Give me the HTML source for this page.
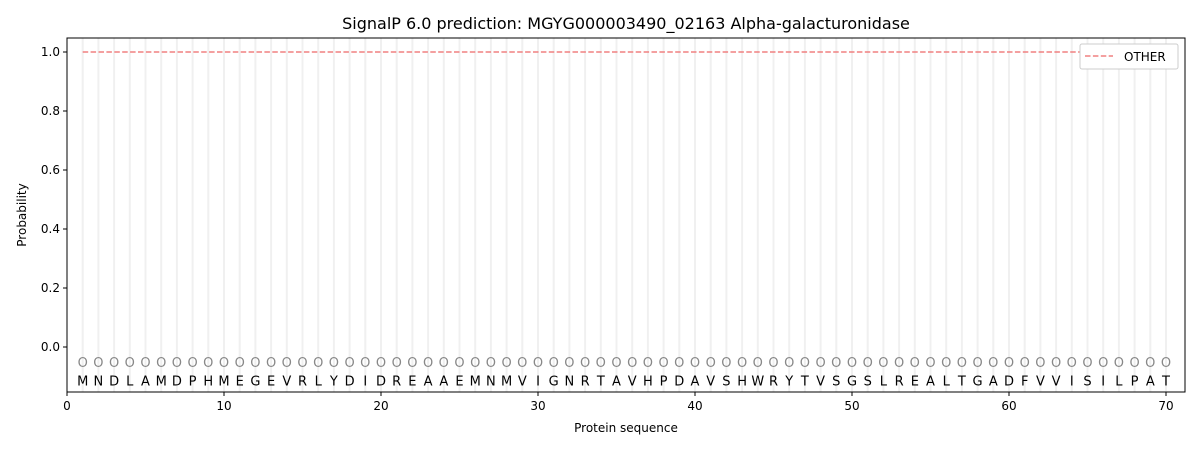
<!DOCTYPE html>
<html><head><meta charset="utf-8"><style>body{margin:0;background:#fff}svg{display:block}</style></head><body>
<svg width="1200" height="450" xmlns="http://www.w3.org/2000/svg" font-family="'DejaVu Sans','Liberation Sans',sans-serif">
<rect width="1200" height="450" fill="#fff"/>
<g id="grid" stroke="#f0f0f0" stroke-width="2"></g>
<line x1="82.7" y1="52" x2="1166" y2="52" stroke="#f08080" stroke-width="1.5" stroke-dasharray="5.5,2.4"/>
<g id="os" font-size="13" fill="#888" text-anchor="middle"></g>
<g id="letters" font-size="13" fill="#000" text-anchor="middle"></g>
<rect x="67" y="38" width="1118" height="354" fill="none" stroke="#000" stroke-width="1"/>
<g font-size="12" fill="#000" text-anchor="end" id="yt"></g>
<g font-size="12" fill="#000" text-anchor="middle" id="xt"></g>
<text x="626" y="29" font-size="16" text-anchor="middle">SignalP 6.0 prediction: MGYG000003490_02163 Alpha-galacturonidase</text>
<text x="626" y="432" font-size="12" text-anchor="middle">Protein sequence</text>
<text transform="translate(26,215) rotate(-90)" font-size="12" text-anchor="middle">Probability</text>
<rect x="1080" y="44" width="98" height="25" fill="#fff" stroke="#ccc" rx="2"/>
<line x1="1085" y1="56" x2="1113" y2="56" stroke="#f08080" stroke-width="1.5" stroke-dasharray="5.5,2.4"/>
<text x="1124" y="61" font-size="12">OTHER</text>
<script>
var seq="MNDLAMDPHMEGEVRLYDIDREAAEMNMVIGNRTAVHPDAVSHWRYTVSGSLREALTGADFVVISILPAT";
var ns="http://www.w3.org/2000/svg";
function X(v){return 67+v*15.7;}
function Y(v){return 347-v*295;}
function el(p,t,a,txt){var e=document.createElementNS(ns,t);for(var k in a)e.setAttribute(k,a[k]);if(txt!==undefined)e.textContent=txt;document.getElementById(p).appendChild(e);}
for(var i=1;i<=70;i++){var x=X(i);
el("grid","line",{x1:x,y1:38,x2:x,y2:392});
el("os","text",{x:x,y:Y(-0.05)+5},"O");
el("letters","text",{x:x,y:Y(-0.1)+9},seq[i-1]);}
for(var v=0;v<=5;v++){var y=Y(v*0.2);el("yt","line",{x1:63,x2:67,y1:y,y2:y,stroke:"#000"});el("yt","text",{x:60,y:y+4},(v*0.2).toFixed(1));}
for(var v=0;v<=70;v+=10){var x=X(v);el("xt","line",{x1:x,x2:x,y1:392,y2:396,stroke:"#000"});el("xt","text",{x:x,y:410},v);}
</script>
</svg>
</body></html>
